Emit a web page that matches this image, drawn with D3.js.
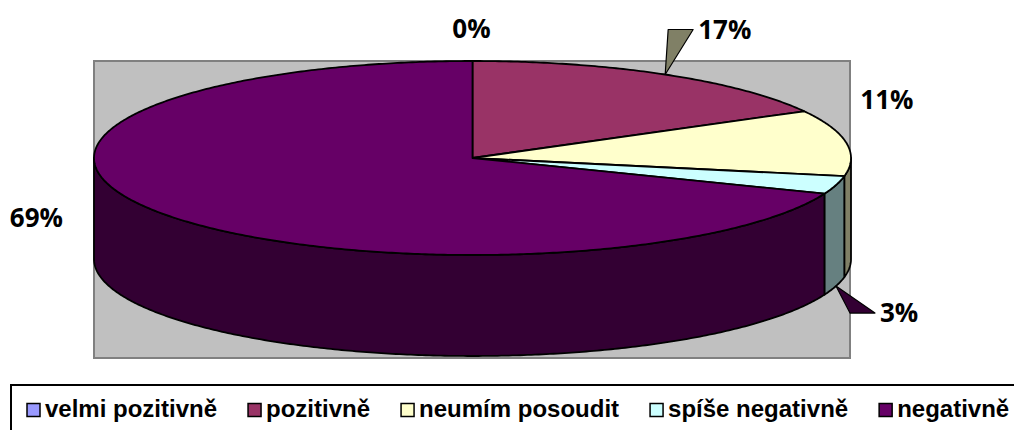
<!DOCTYPE html>
<html>
<head>
    <meta charset="utf-8">
    <title>3d pie</title>
    <style>
        body { margin: 0; background: #fff; }
        svg { display: block; }
    </style>
</head>
<body>
<script src="https://d3js.org/d3.v7.min.js"></script>
<script>

    var width = 1014,
        height = 430;

    // data
    var categories = ['velmi pozitivně', 'pozitivně', 'neumím posoudit', 'spíše negativně', 'negativně'];
    var values = [0, 17, 11, 3, 69];
    var labels = ['0%', '17%', '11%', '3%', '69%'];
    var colors = ['#9999FF', '#993366', '#FFFFCC', '#CCFFFF', '#660066'];

    // label placement relative to the slice's edge point (excel puts them by hand)
    var labelOffset = [
        {dx: -1, dy: -23, anchor: 'middle', callout: false},
        {dx: 33, dy: -36, anchor: 'start', callout: true},
        {dx: 14, dy: -34, anchor: 'start', callout: false},
        {dx: 44, dy: 36, anchor: 'start', callout: true},
        {dx: -123, dy: 14, anchor: 'middle', callout: false}
    ];

    var cx = 472.5, cy = 158, rx = 378.5, ry = 97, depth = 101;

    var svg = d3.select('body').append('svg')
        .attr('width', width)
        .attr('height', height);

    // plot area
    svg.append('rect')
        .attr('x', 94).attr('y', 61)
        .attr('width', 756).attr('height', 297)
        .attr('fill', '#C0C0C0')
        .attr('stroke', '#808080')
        .attr('stroke-width', 2);

    var pie = d3.pie().sort(null).startAngle(0).endAngle(2 * Math.PI);
    var arcs = pie(values);

    function proj(a, dy) {
        return [cx + rx * Math.sin(a), cy - ry * Math.cos(a) + (dy || 0)];
    }
    function arcPts(a0, a1, dy) {
        var n = Math.max(2, Math.ceil(Math.abs(a1 - a0) / 0.01)),
            pts = [];
        for (var i = 0; i <= n; i++) pts.push(proj(a0 + (a1 - a0) * i / n, dy));
        return pts;
    }
    var line = d3.line();

    function darker(c) {
        var k = d3.rgb(c);
        return d3.rgb(k.r * 0.5, k.g * 0.5, k.b * 0.5).toString();
    }

    // outer walls, only the front half is visible
    var walls = svg.append('g');
    arcs.forEach(function (d, i) {
        var a0 = Math.max(d.startAngle, Math.PI / 2),
            a1 = Math.min(d.endAngle, 3 * Math.PI / 2);
        if (a1 <= a0) return;
        var pts = arcPts(a0, a1, 0).concat(arcPts(a1, a0, depth));
        walls.append('path')
            .attr('d', line(pts) + 'Z')
            .attr('fill', darker(colors[i]))
            .attr('stroke', '#000')
            .attr('stroke-width', 1.8)
            .attr('stroke-linejoin', 'round');
    });

    // tops
    var tops = svg.append('g');
    arcs.forEach(function (d, i) {
        if (d.endAngle - d.startAngle <= 0) return;
        var pts = [[cx, cy]].concat(arcPts(d.startAngle, d.endAngle, 0));
        tops.append('path')
            .attr('d', line(pts) + 'Z')
            .attr('fill', colors[i])
            .attr('stroke', '#000')
            .attr('stroke-width', 1.8)
            .attr('stroke-linejoin', 'round');
    });

    // data labels
    var lab = svg.append('g')
        .attr('font-family', '"Open Sans", Lato, sans-serif')
        .attr('font-weight', 'bold')
        .attr('font-size', 26);
    arcs.forEach(function (d, i) {
        var mid = (d.startAngle + d.endAngle) / 2,
            front = Math.cos(mid) < 0 && mid < 3 * Math.PI / 2 && mid > Math.PI / 2 && i !== 4,
            p = proj(mid, front ? depth : 0),
            o = labelOffset[i],
            tx = p[0] + o.dx,
            ty = p[1] + o.dy;
        if (o.callout) {
            var by = ty - 9;
            lab.append('path')
                .attr('d', line([p, [tx - 30, by], [tx - 5, by]]) + 'Z')
                .attr('fill', i === 1 ? darker(colors[2]) : darker(colors[4]))
                .attr('stroke', '#000')
                .attr('stroke-width', 1.2)
                .attr('stroke-linejoin', 'round');
        }
        lab.append('text')
            .attr('x', tx).attr('y', ty)
            .attr('text-anchor', o.anchor)
            .text(labels[i]);
    });

    // legend
    var legend = svg.append('g');
    legend.append('rect')
        .attr('x', 11).attr('y', 385)
        .attr('width', 1020).attr('height', 60)
        .attr('fill', '#fff')
        .attr('stroke', '#000')
        .attr('stroke-width', 2);

    var lx = 27;
    categories.forEach(function (c, i) {
        legend.append('rect')
            .attr('x', lx).attr('y', 403.5)
            .attr('width', 13).attr('height', 13)
            .attr('fill', colors[i])
            .attr('stroke', '#000')
            .attr('stroke-width', 1.5);
        var t = legend.append('text')
            .attr('x', lx + 18).attr('y', 417)
            .attr('font-family', '"Liberation Sans", Arial, sans-serif')
            .attr('font-weight', 'bold')
            .attr('font-size', 24)
            .text(c);
        lx = lx + 18 + t.node().getComputedTextLength() + 31;
    });

</script>
</body>
</html>
